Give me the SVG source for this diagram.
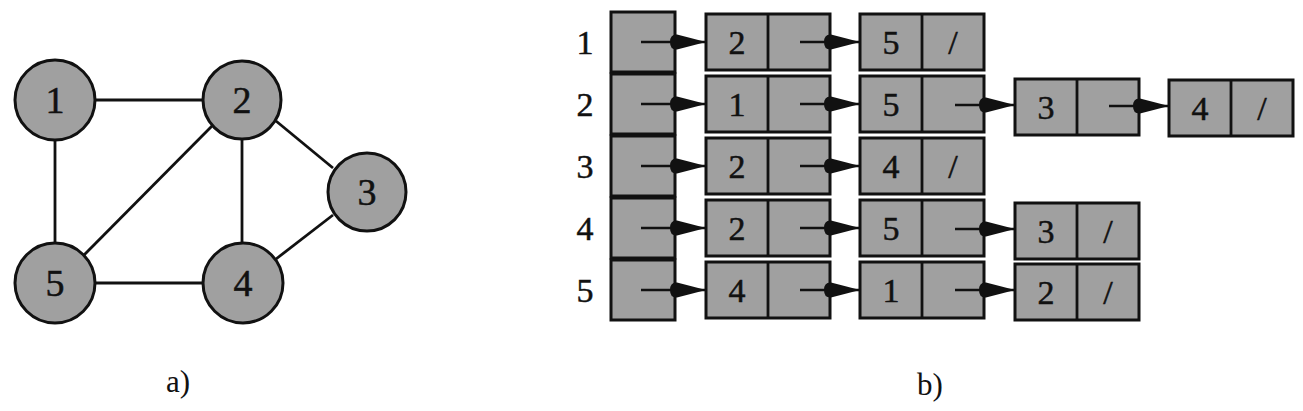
<svg xmlns="http://www.w3.org/2000/svg" width="1303" height="411" viewBox="0 0 1303 411" font-family="Liberation Serif" text-anchor="middle">
<style>
.n{fill:#a0a0a0;stroke:#111;stroke-width:3}
.e{stroke:#111;stroke-width:2.8;fill:none}
.a{stroke:#111;stroke-width:2.5;fill:none;marker-end:url(#ah)}
.g{font-size:38px;fill:#111;stroke:#111;stroke-width:0.5}
.l{font-size:34px;fill:#111;stroke:#111;stroke-width:0.5}
.c{font-size:31px;fill:#111}
</style>
<defs>
<marker id="ah" markerUnits="userSpaceOnUse" markerWidth="40" markerHeight="20" refX="36" refY="10" orient="auto">
<path d="M0,10 Q0,2 7,2.5 L36,10 L7,17.5 Q0,18 0,10 Z" fill="#111"/>
</marker>
</defs>
<!-- graph a) -->
<g id="graph-edges">
<line class="e" x1="95" y1="100" x2="202" y2="100"/>
<line class="e" x1="55" y1="140" x2="55" y2="243"/>
<line class="e" x1="84" y1="255" x2="212" y2="126"/>
<line class="e" x1="242" y1="139" x2="242" y2="244"/>
<line class="e" x1="276" y1="121" x2="333" y2="168"/>
<line class="e" x1="333" y1="215" x2="276" y2="259"/>
<line class="e" x1="95" y1="283" x2="204" y2="283"/>
</g>
<g id="g1"><circle class="n" cx="55" cy="100" r="40"/><text class="g" x="55" y="113">1</text></g>
<g id="g2"><circle class="n" cx="242" cy="100" r="39"/><text class="g" x="242" y="113">2</text></g>
<g id="g3"><circle class="n" cx="367" cy="192" r="39"/><text class="g" x="367" y="205">3</text></g>
<g id="g4"><circle class="n" cx="243" cy="283" r="40"/><text class="g" x="243" y="296">4</text></g>
<g id="g5"><circle class="n" cx="55" cy="283" r="40"/><text class="g" x="55" y="296">5</text></g>
<text class="c" x="178" y="392">a)</text>
<!-- adjacency list b) -->
<g id="row-labels">
<text class="l" x="585" y="54">1</text>
<text class="l" x="585" y="116">2</text>
<text class="l" x="585" y="178">3</text>
<text class="l" x="585" y="240">4</text>
<text class="l" x="585" y="302">5</text>
</g>
<g id="h1"><rect class="n" x="611" y="12" width="64" height="60"/></g>
<g id="h2"><rect class="n" x="611" y="74" width="64" height="60"/></g>
<g id="h3"><rect class="n" x="611" y="136" width="64" height="60"/></g>
<g id="h4"><rect class="n" x="611" y="198" width="64" height="60"/></g>
<g id="h5"><rect class="n" x="611" y="260" width="64" height="60"/></g>
<!-- row 1 -->
<g id="r1c1"><rect class="n" x="706" y="14" width="124" height="56"/><line class="e" x1="768" y1="14" x2="768" y2="70"/><text class="l" x="737" y="54">2</text></g>
<g id="r1c2"><rect class="n" x="860" y="14" width="124" height="56"/><line class="e" x1="922" y1="14" x2="922" y2="70"/><text class="l" x="891" y="54">5</text><text class="l" x="953" y="54">/</text></g>
<!-- row 2 -->
<g id="r2c1"><rect class="n" x="706" y="76" width="124" height="56"/><line class="e" x1="768" y1="76" x2="768" y2="132"/><text class="l" x="737" y="116">1</text></g>
<g id="r2c2"><rect class="n" x="860" y="76" width="124" height="56"/><line class="e" x1="922" y1="76" x2="922" y2="132"/><text class="l" x="891" y="116">5</text></g>
<g id="r2c3"><rect class="n" x="1015" y="79" width="124" height="56"/><line class="e" x1="1077" y1="79" x2="1077" y2="135"/><text class="l" x="1046" y="119">3</text></g>
<g id="r2c4"><rect class="n" x="1169" y="80" width="124" height="56"/><line class="e" x1="1231" y1="80" x2="1231" y2="136"/><text class="l" x="1200" y="120">4</text><text class="l" x="1262" y="120">/</text></g>
<!-- row 3 -->
<g id="r3c1"><rect class="n" x="706" y="138" width="124" height="56"/><line class="e" x1="768" y1="138" x2="768" y2="194"/><text class="l" x="737" y="178">2</text></g>
<g id="r3c2"><rect class="n" x="860" y="138" width="124" height="56"/><line class="e" x1="922" y1="138" x2="922" y2="194"/><text class="l" x="891" y="178">4</text><text class="l" x="953" y="178">/</text></g>
<!-- row 4 -->
<g id="r4c1"><rect class="n" x="706" y="200" width="124" height="56"/><line class="e" x1="768" y1="200" x2="768" y2="256"/><text class="l" x="737" y="240">2</text></g>
<g id="r4c2"><rect class="n" x="860" y="200" width="124" height="56"/><line class="e" x1="922" y1="200" x2="922" y2="256"/><text class="l" x="891" y="240">5</text></g>
<g id="r4c3"><rect class="n" x="1015" y="203" width="124" height="56"/><line class="e" x1="1077" y1="203" x2="1077" y2="259"/><text class="l" x="1046" y="243">3</text><text class="l" x="1108" y="243">/</text></g>
<!-- row 5 -->
<g id="r5c1"><rect class="n" x="706" y="262" width="124" height="56"/><line class="e" x1="768" y1="262" x2="768" y2="318"/><text class="l" x="737" y="302">4</text></g>
<g id="r5c2"><rect class="n" x="860" y="262" width="124" height="56"/><line class="e" x1="922" y1="262" x2="922" y2="318"/><text class="l" x="891" y="302">1</text></g>
<g id="r5c3"><rect class="n" x="1015" y="264" width="124" height="56"/><line class="e" x1="1077" y1="264" x2="1077" y2="320"/><text class="l" x="1046" y="304">2</text><text class="l" x="1108" y="304">/</text></g>
<g id="connectors">
<line class="a" x1="641" y1="42" x2="706" y2="42"/>
<line class="a" x1="800" y1="42" x2="860" y2="42"/>
<line class="a" x1="641" y1="104" x2="706" y2="104"/>
<line class="a" x1="800" y1="104" x2="860" y2="104"/>
<line class="a" x1="955" y1="105" x2="1015" y2="105"/>
<line class="a" x1="1109" y1="106" x2="1169" y2="106"/>
<line class="a" x1="641" y1="166" x2="706" y2="166"/>
<line class="a" x1="800" y1="166" x2="860" y2="166"/>
<line class="a" x1="641" y1="228" x2="706" y2="228"/>
<line class="a" x1="800" y1="228" x2="860" y2="228"/>
<line class="a" x1="955" y1="229" x2="1015" y2="229"/>
<line class="a" x1="641" y1="290" x2="706" y2="290"/>
<line class="a" x1="800" y1="290" x2="860" y2="290"/>
<line class="a" x1="955" y1="290" x2="1015" y2="290"/>
</g>
<text class="c" x="930" y="395">b)</text>
</svg>
